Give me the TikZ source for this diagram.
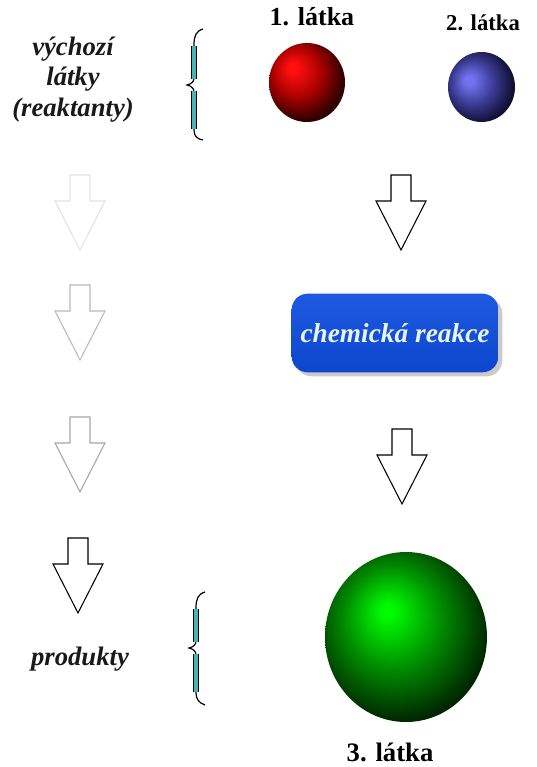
\documentclass[tikz,border=0pt]{standalone}
\usepackage{fontspec}
\setmainfont{Liberation Serif}
\usetikzlibrary{shadows}
\definecolor{labelgray}{RGB}{25,25,25}
\definecolor{bracefill}{RGB}{70,180,185}
\definecolor{boxblue}{RGB}{12,70,205}
\definecolor{boxtop}{RGB}{30,90,225}
\definecolor{boxtext}{RGB}{230,245,255}
\definecolor{rhi}{RGB}{255,15,15}
\definecolor{rmid}{RGB}{170,0,0}
\definecolor{rlo}{RGB}{50,0,0}
\definecolor{bhi}{RGB}{115,115,240}
\definecolor{bmid}{RGB}{62,62,155}
\definecolor{blo}{RGB}{15,15,50}
\definecolor{ghi}{RGB}{0,250,0}
\definecolor{gmid}{RGB}{0,140,0}
\definecolor{glo}{RGB}{0,40,0}
\pgfdeclareradialshading{redball}{\pgfpoint{-10bp}{10bp}}{color(0bp)=(rhi); color(3bp)=(rhi); color(16bp)=(rmid); color(28bp)=(rlo); color(50bp)=(rlo)}
\pgfdeclareradialshading{blueball}{\pgfpoint{-10bp}{5bp}}{color(0bp)=(bhi); color(3bp)=(bhi); color(15bp)=(bmid); color(28bp)=(blo); color(50bp)=(blo)}
\pgfdeclareradialshading{greenball}{\pgfpoint{-6bp}{8bp}}{color(0bp)=(ghi); color(2bp)=(ghi); color(15bp)=(gmid); color(28bp)=(glo); color(50bp)=(glo)}
\tikzset{
  lbl/.style={font=\fontsize{20}{24}\selectfont\bfseries\itshape, text=labelgray, anchor=base, inner sep=0pt},
  substname/.style={font=\fontsize{19.5}{23}\selectfont\bfseries, text=black, anchor=base, inner sep=0pt},
  blockarrow/.style={fill=white, line width=0.8pt, line join=miter},
  downarr/.pic={\path[pic actions] (-10,0) -- (10,0) -- (10,26) -- (25,26) -- (0,75) -- (-25,26) -- (-10,26) -- cycle;},
  bracebody/.style={black, line width=0.9pt},
  bracestrip/.style={double=bracefill, double distance=2.8pt, line width=0.5pt, draw=black},
  reactbox/.style={rounded corners=12pt, draw=none, top color=boxtop, bottom color=boxblue,
    minimum width=155pt, minimum height=59pt, text=boxtext,
    font=\fontsize{20.5}{24}\selectfont\bfseries\itshape,
    drop shadow={shadow xshift=3pt, shadow yshift=-3pt, fill=gray!70, opacity=0.6}},
}
\begin{document}
\begin{tikzpicture}[x=0.75pt, y=-0.75pt]
\useasboundingbox (0,0) rectangle (536,767);

% left labels
\node[lbl] (vych) at (73,56) {výchozí};
\node[lbl] (latky) at (73,85) {látky};
\node[lbl] (reakt) at (73,116) {(reaktanty)};
\node[lbl] (prod) at (80,665) {produkty};

% braces
\draw[bracebody] (203,29) .. controls (196,31) and (194,36) .. (194,45) -- (194,78)
   .. controls (194,82) and (191,84) .. (187,85) .. controls (191,86) and (194,88) .. (194,92)
   -- (194,130) .. controls (194,136) and (197,139) .. (203,140);
\draw[bracestrip] (194,46) -- (194,79);
\draw[bracestrip] (194,91) -- (194,129);

\draw[bracebody] (205,592) .. controls (198,594) and (196,599) .. (196,608) -- (196,641)
   .. controls (196,645) and (193,647) .. (189,648) .. controls (193,649) and (196,651) .. (196,655)
   -- (196,693) .. controls (196,699) and (199,703) .. (205,705);
\draw[bracestrip] (196,609) -- (196,642);
\draw[bracestrip] (196,654) -- (196,692);

% substances
\node[substname] (n1) at (312,26) {1. látka};
\node[substname, font=\fontsize{17}{20}\selectfont\bfseries] (n2) at (483,31) {2. látka};
\node[substname, font=\fontsize{20}{24}\selectfont\bfseries] (n3) at (390,761) {3. látka};

\path[shading=redball] (307,82.5) ellipse [x radius=38, y radius=39.5];
\path[shading=blueball] (481.5,87) ellipse [x radius=33.5, y radius=35];
\path[shading=greenball] (406,637) ellipse [x radius=81, y radius=85];

% left column arrows
\pic[blockarrow, draw=gray!22] (la1) at (80,175) {downarr};
\pic[blockarrow, draw=gray!55] (la2) at (80,285) {downarr};
\pic[blockarrow, draw=gray!68] (la3) at (80,417) {downarr};
\pic[blockarrow, draw=black] (la4) at (78,538) {downarr};

% right column arrows
\pic[blockarrow, draw=black] (ra1) at (401,175) {downarr};
\pic[blockarrow, draw=black] (ra2) at (402,429) {downarr};

% reaction box
\node[reactbox] (reakce) at (395,333) {chemická reakce};
\end{tikzpicture}
\end{document}
